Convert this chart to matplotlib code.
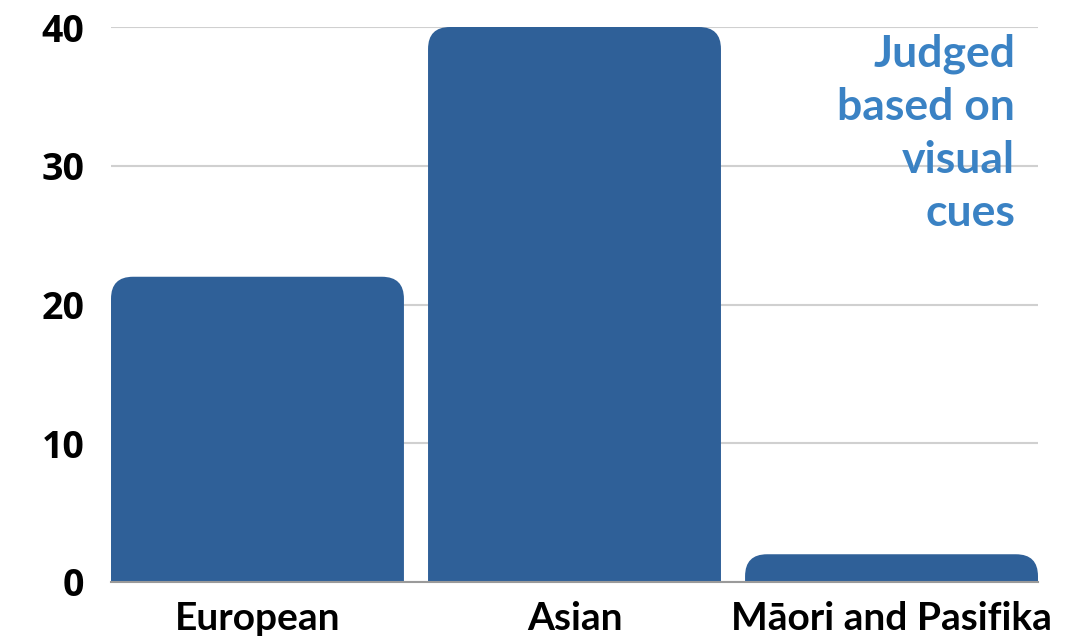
import matplotlib.pyplot as plt
from matplotlib.path import Path
from matplotlib.patches import PathPatch

groups = ['European', 'Asian', 'Māori and Pasifika']
counts = [22, 40, 2]
y_ticks = [0, 10, 20, 30, 40]
note = 'Judged\nbased on\nvisual\ncues'

bar_color = '#2f6098'
note_color = '#3a82c4'
bar_w = 0.924
radius_px = 22

plt.rcParams['font.family'] = ['Lato', 'DejaVu Sans']

fig = plt.figure(figsize=(10.91, 6.4), dpi=100)
ax = fig.add_axes([111 / 1091, 58 / 640, 927 / 1091, 555 / 640])

bars = ax.bar(range(len(groups)), counts, width=bar_w, color='none')
ax.set_xlim(-bar_w / 2, len(groups) - 1 + bar_w / 2)
ax.set_ylim(0, 40)

# pixel radius -> data units in x and y
fig.canvas.draw()
bb = ax.get_window_extent()
rx = radius_px * (ax.get_xlim()[1] - ax.get_xlim()[0]) / bb.width
ry_unit = (ax.get_ylim()[1] - ax.get_ylim()[0]) / bb.height

for b in bars:
    x0 = b.get_x()
    x1 = x0 + b.get_width()
    h = b.get_height()
    ry = min(radius_px * ry_unit, h)
    verts = [
        (x0, 0), (x0, h - ry), (x0, h), (x0 + rx, h),
        (x1 - rx, h), (x1, h), (x1, h - ry), (x1, 0), (x0, 0),
    ]
    codes = [
        Path.MOVETO, Path.LINETO, Path.CURVE3, Path.CURVE3,
        Path.LINETO, Path.CURVE3, Path.CURVE3, Path.LINETO, Path.CLOSEPOLY,
    ]
    ax.add_patch(PathPatch(Path(verts, codes), facecolor=bar_color,
                           edgecolor='none', zorder=3))

ax.set_yticks(y_ticks)
ax.set_xticks(range(len(groups)))
ax.set_xticklabels(groups)
ax.grid(axis='y', color='#d0d0d0', linewidth=1.5, zorder=0)
ax.set_axisbelow(True)
for side in ['top', 'right', 'left']:
    ax.spines[side].set_visible(False)
ax.spines['bottom'].set_color('#9a9a9a')
ax.spines['bottom'].set_linewidth(1.5)
ax.spines['bottom'].set_zorder(4)
ax.tick_params(axis='y', length=0, pad=19)
ax.tick_params(axis='x', length=0, pad=14)
for lbl in ax.get_yticklabels():
    lbl.set_fontweight('bold')
    lbl.set_fontsize(27)
    lbl.set_family(['Open Sans', 'DejaVu Sans'])
for lbl in ax.get_xticklabels():
    lbl.set_fontweight('bold')
    lbl.set_fontsize(28)

ax.text(1015 / 1091, 1 - 33 / 640, note, transform=fig.transFigure,
        ha='right', va='top', fontsize=32, fontweight='bold',
        color=note_color, linespacing=1.4)

fig.savefig('out.png', dpi=100)
